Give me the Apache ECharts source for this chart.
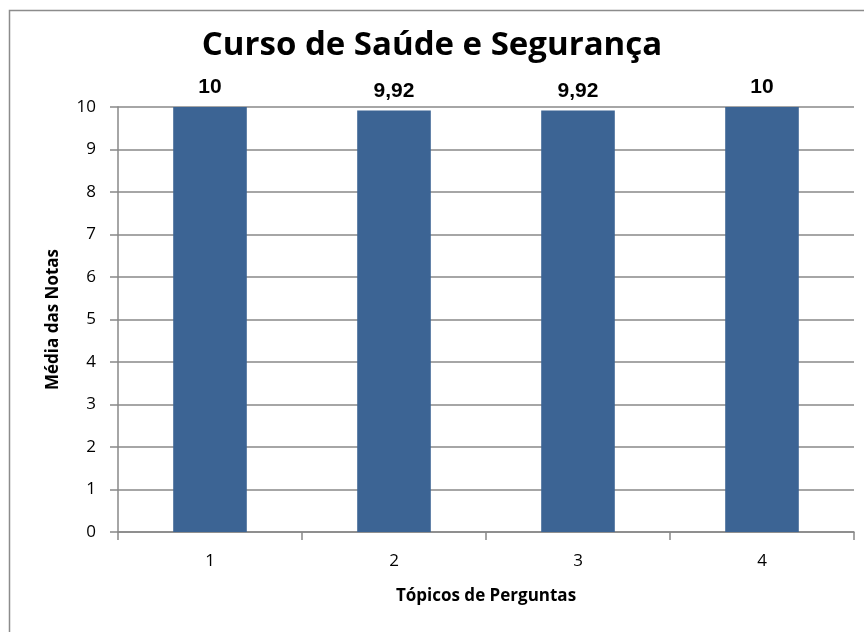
<!DOCTYPE html>
<html><head><meta charset="utf-8">
<script src="https://cdn.jsdelivr.net/npm/echarts@6/dist/echarts.min.js"></script>
<style>html,body{margin:0;padding:0;background:#fff}#c{width:864px;height:632px}</style>
</head><body><div id="c"></div>
<script>
var categories = ['1', '2', '3', '4'];
var values = [10, 9.92, 9.92, 10];
var chart = echarts.init(document.getElementById('c'), null, {renderer: 'canvas'});
var gridColor = '#888888';
var calibriLike = 'Open Sans';
chart.setOption({
  animation: false,
  backgroundColor: '#fff',
  graphic: [{
    type: 'rect', shape: {x: 9.5, y: 10.5, width: 900, height: 700},
    style: {fill: 'none', stroke: '#8c8c8c', lineWidth: 1.5}, z: -1
  }],
  title: {
    text: 'Curso de Saúde e Segurança', left: 'center', top: 24,
    textStyle: {fontFamily: calibriLike, fontWeight: 'bold', fontSize: 33, color: '#000'}
  },
  grid: {left: 118, right: 10, top: 107, bottom: 100, containLabel: false},
  xAxis: {
    type: 'category', data: categories,
    name: 'Tópicos de Perguntas', nameLocation: 'middle', nameGap: 56,
    nameTextStyle: {fontFamily: calibriLike, fontWeight: 'bold', fontSize: 17, color: '#000'},
    axisLine: {lineStyle: {color: gridColor, width: 1.5}},
    axisTick: {show: true, alignWithLabel: false, length: 8, lineStyle: {color: gridColor, width: 1.5}},
    axisLabel: {fontFamily: calibriLike, fontSize: 17, color: '#000', margin: 21}
  },
  yAxis: {
    type: 'value', min: 0, max: 10, interval: 1,
    name: 'Média das Notas', nameLocation: 'middle', nameGap: 56,
    nameTextStyle: {fontFamily: calibriLike, fontWeight: 'bold', fontSize: 17, color: '#000'},
    axisLine: {show: true, lineStyle: {color: gridColor, width: 1.5}},
    axisTick: {show: true, length: 8, lineStyle: {color: gridColor, width: 1.5}},
    splitLine: {show: true, lineStyle: {color: gridColor, width: 1.5}},
    axisLabel: {fontFamily: calibriLike, fontSize: 17, color: '#000', margin: 22}
  },
  series: [{
    type: 'bar', data: values, barWidth: '40%',
    itemStyle: {color: '#3C6494'},
    label: {
      show: true, position: 'top', distance: 9,
      formatter: function (p) { return String(p.value).replace('.', ','); },
      fontFamily: 'Liberation Sans', fontWeight: 'bold', fontSize: 21, color: '#000'
    }
  }]
});
</script></body></html>
